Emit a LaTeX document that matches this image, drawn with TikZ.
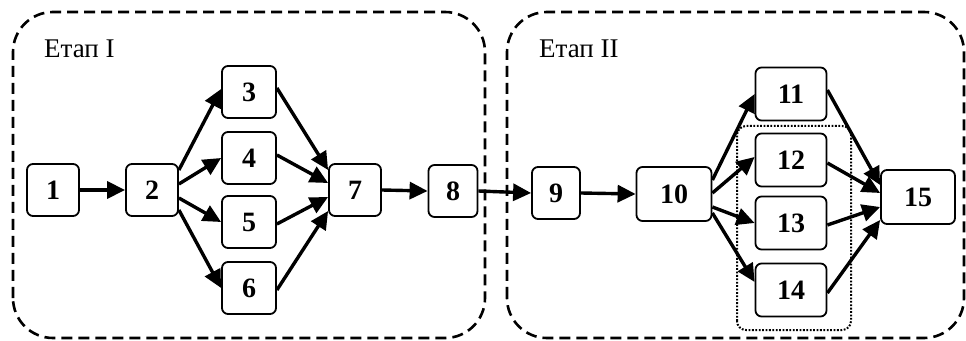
\documentclass[tikz,border=0pt]{standalone}
\usepackage{fontspec}
\setmainfont{Liberation Serif}
\usetikzlibrary{arrows.meta,calc}
\begin{document}
\begin{tikzpicture}[x=1pt,y=1pt,
  task/.style={draw,line width=1.8pt,rounded corners=6pt,minimum width=52pt,minimum height=52pt,
    inner sep=0pt,font=\fontsize{28}{30}\selectfont\bfseries},
  wide/.style={task,minimum width=73pt,minimum height=54pt},
  link/.style={line width=3.4pt,-{Triangle[length=18pt,width=17pt]}},
  stage/.style={line width=2.6pt,dash pattern=on 11pt off 6pt,rounded corners=40pt},
  group/.style={line width=2pt,dash pattern=on 1.8pt off 1.6pt,rounded corners=9pt},
  stagelabel/.style={anchor=base west,inner sep=0pt,font=\fontsize{27}{29}\selectfont}]
\useasboundingbox (0,0) rectangle (966,340);

% stage frames
\draw[stage] (13,2) rectangle (485,328);
\draw[stage] (507,2) rectangle (964,328);
\node[stagelabel] (s1) at (44,282) {Етап I};
\node[stagelabel] (s2) at (539,282) {Етап II};

% group of parallel tasks 12--14
\draw[group] (737,10) rectangle (851,214);

% tasks of stage I
\node[task] (n1) at (53,150) {1};
\node[task] (n2) at (152,150) {2};
\node[task,minimum width=54pt] (n3) at (249,248) {3};
\node[task,minimum width=54pt] (n4) at (249,182) {4};
\node[task,minimum width=54pt] (n5) at (249,118) {5};
\node[task,minimum width=54pt] (n6) at (249,52) {6};
\node[task] (n7) at (355,150) {7};
\node[task,minimum width=49pt] (n8) at (453,149) {8};

% tasks of stage II
\node[task,minimum width=48pt] (n9) at (556,147) {9};
\node[wide,minimum width=75pt] (n10) at (674,146) {10};
\node[wide,minimum width=71pt,minimum height=53pt] (n11) at (791,246) {11};
\node[wide,minimum width=71pt,minimum height=53pt] (n12) at (791,180) {12};
\node[wide,minimum width=71pt,minimum height=53pt] (n13) at (791,117) {13};
\node[wide,minimum width=71pt,minimum height=53pt] (n14) at (791,50) {14};
\node[wide,minimum width=74pt] (n15) at (918,143) {15};

% connectors
\draw[link] (n1.east) -- (n2.west);
\draw[link] ($(n2.east)+(0,20)$) -- ($(n3.west)+(0,3)$);
\draw[link] ($(n2.east)+(0,6)$) -- (n4.west);
\draw[link] ($(n2.east)+(0,-8)$) -- (n5.west);
\draw[link] ($(n2.east)+(0,-20)$) -- (n6.west);
\draw[link] ($(n3.east)+(0,4)$) -- ($(n7.west)+(0,20)$);
\draw[link] ($(n4.east)+(0,3)$) -- ($(n7.west)+(0,7)$);
\draw[link] ($(n5.east)+(0,-2)$) -- ($(n7.west)+(0,-7)$);
\draw[link] ($(n6.east)+(0,-2)$) -- ($(n7.west)+(0,-21)$);
\draw[link] (n7.east) -- (n8.west);
\draw[link] (n8.east) -- (n9.west);
\draw[link] (n9.east) -- (n10.west);
\draw[link] ($(n10.east)+(0,14)$) -- (n11.west);
\draw[link] ($(n10.east)+(0,1)$) -- ($(n12.west)+(0,3)$);
\draw[link] ($(n10.east)+(0,-13)$) -- (n13.west);
\draw[link] ($(n10.east)+(0,-19)$) -- ($(n14.west)+(0,8)$);
\draw[link] ($(n11.east)+(0,4)$) -- ($(n15.west)+(0,12)$);
\draw[link] ($(n12.east)+(0,-3)$) -- ($(n15.west)+(0,4)$);
\draw[link] ($(n13.east)+(0,-2)$) -- ($(n15.west)+(0,-10)$);
\draw[link] ($(n14.east)+(0,-3)$) -- ($(n15.west)+(0,-23)$);
\end{tikzpicture}
\end{document}
